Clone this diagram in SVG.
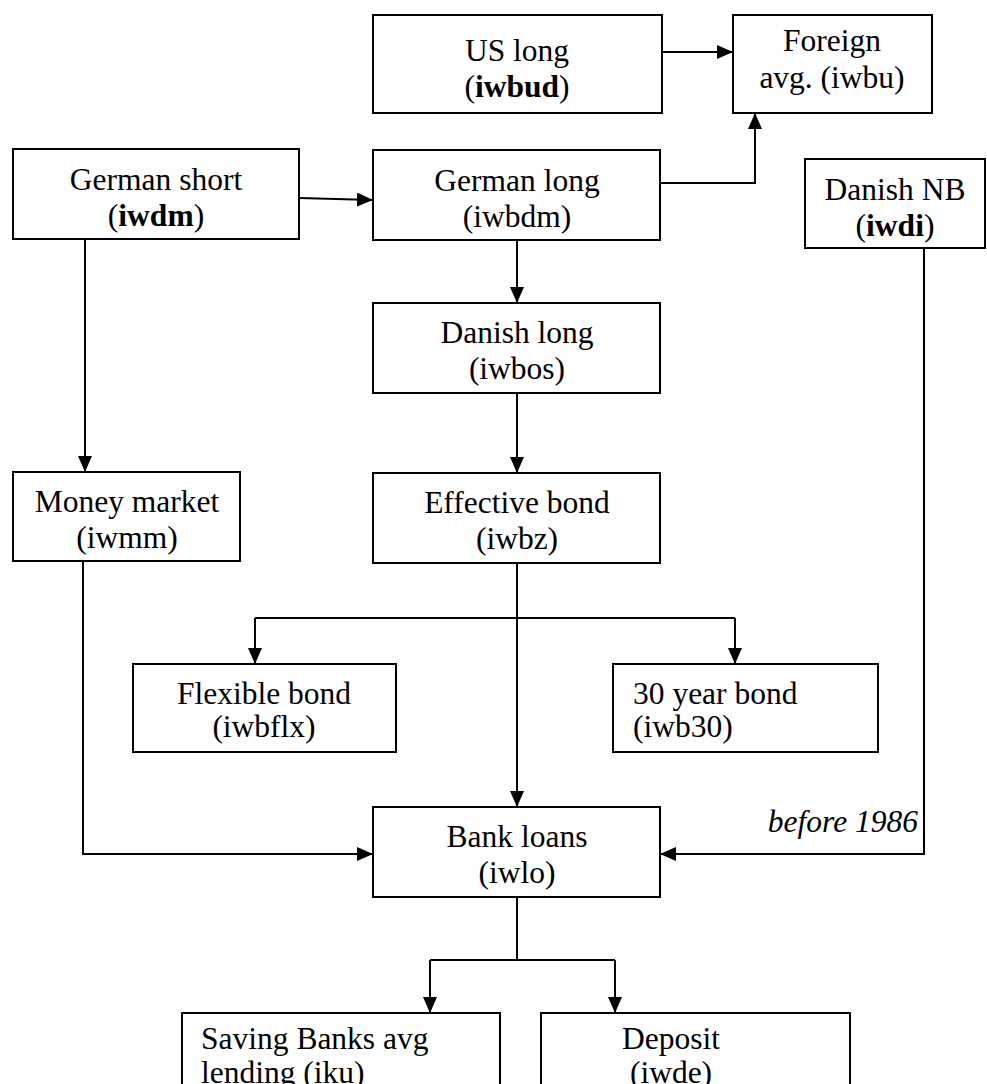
<svg xmlns="http://www.w3.org/2000/svg" width="987" height="1084" viewBox="0 0 987 1084">
<defs>
<marker id="ah" viewBox="0 0 16 14" refX="16" refY="7" markerWidth="16" markerHeight="14" markerUnits="userSpaceOnUse" orient="auto">
<path d="M0,0 L16,7 L0,14 Z" fill="#000"/>
</marker>
<style>
rect{fill:#fff;stroke:#000;stroke-width:2}
text{font-family:"Liberation Serif","Times New Roman",serif;font-size:31.5px;fill:#000}
.c{text-anchor:middle}
.b{font-weight:bold}
.i{font-style:italic}
#connectors path{fill:none;stroke:#000;stroke-width:2;marker-end:url(#ah)}
#connectors path.n{marker-end:none}
</style>
</defs>
<rect x="0" y="0" width="987" height="1084" style="fill:#fff;stroke:none"/>
<g id="connectors">
<path d="M662,52 L733,52"/>
<path d="M660,183 L755,183 L755,113"/>
<path d="M299,198 L373,200"/>
<path d="M85,239 L85,472"/>
<path d="M517,240 L517,303"/>
<path d="M517,393 L517,473"/>
<path d="M517,563 L517,807"/>
<path class="n" d="M255,618 L735,618"/>
<path d="M255,618 L255,664"/>
<path d="M735,618 L735,664"/>
<path d="M83,561 L83,854 L373,854"/>
<path d="M924,248 L924,854 L660,854"/>
<path class="n" d="M517,897 L517,960"/>
<path class="n" d="M430,960 L615,960"/>
<path d="M430,960 L430,1013"/>
<path d="M615,960 L615,1013"/>
</g>
<text class="i" x="918" y="832" text-anchor="end">before 1986</text>
<g id="us_long">
<rect x="373" y="15" width="289" height="98"/>
<text class="c" x="517" y="61">US long</text>
<text class="c" x="517" y="97">(<tspan class="b">iwbud</tspan>)</text>
</g>
<g id="foreign">
<rect x="733" y="15" width="199" height="98"/>
<text class="c" x="832" y="51">Foreign</text>
<text class="c" x="832" y="88">avg. (iwbu)</text>
</g>
<g id="german_short">
<rect x="13" y="149" width="286" height="90"/>
<text class="c" x="156" y="190">German short</text>
<text class="c" x="156" y="226">(<tspan class="b">iwdm</tspan>)</text>
</g>
<g id="german_long">
<rect x="373" y="150" width="287" height="90"/>
<text class="c" x="517" y="191">German long</text>
<text class="c" x="517" y="227">(iwbdm)</text>
</g>
<g id="danish_nb">
<rect x="805" y="159" width="180" height="89"/>
<text class="c" x="895" y="200">Danish NB</text>
<text class="c" x="895" y="236">(<tspan class="b">iwdi</tspan>)</text>
</g>
<g id="danish_long">
<rect x="373" y="303" width="287" height="90"/>
<text class="c" x="517" y="343">Danish long</text>
<text class="c" x="517" y="379">(iwbos)</text>
</g>
<g id="money_market">
<rect x="13" y="472" width="227" height="89"/>
<text class="c" x="127" y="512">Money market</text>
<text class="c" x="127" y="548">(iwmm)</text>
</g>
<g id="effective_bond">
<rect x="373" y="473" width="287" height="90"/>
<text class="c" x="517" y="513">Effective bond</text>
<text class="c" x="517" y="549">(iwbz)</text>
</g>
<g id="flexible_bond">
<rect x="133" y="664" width="263" height="88"/>
<text class="c" x="264" y="704">Flexible bond</text>
<text class="c" x="264" y="737">(iwbflx)</text>
</g>
<g id="year30_bond">
<rect x="613" y="664" width="265" height="88"/>
<text x="633" y="704">30 year bond</text>
<text x="633" y="737">(iwb30)</text>
</g>
<g id="bank_loans">
<rect x="373" y="807" width="287" height="90"/>
<text class="c" x="517" y="847">Bank loans</text>
<text class="c" x="517" y="883">(iwlo)</text>
</g>
<g id="saving_banks">
<rect x="182" y="1013" width="318" height="90"/>
<text x="201" y="1049">Saving Banks avg</text>
<text x="201" y="1083">lending (iku)</text>
</g>
<g id="deposit">
<rect x="541" y="1013" width="309" height="90"/>
<text class="c" x="671" y="1049">Deposit</text>
<text class="c" x="671" y="1083">(iwde)</text>
</g>
</svg>
